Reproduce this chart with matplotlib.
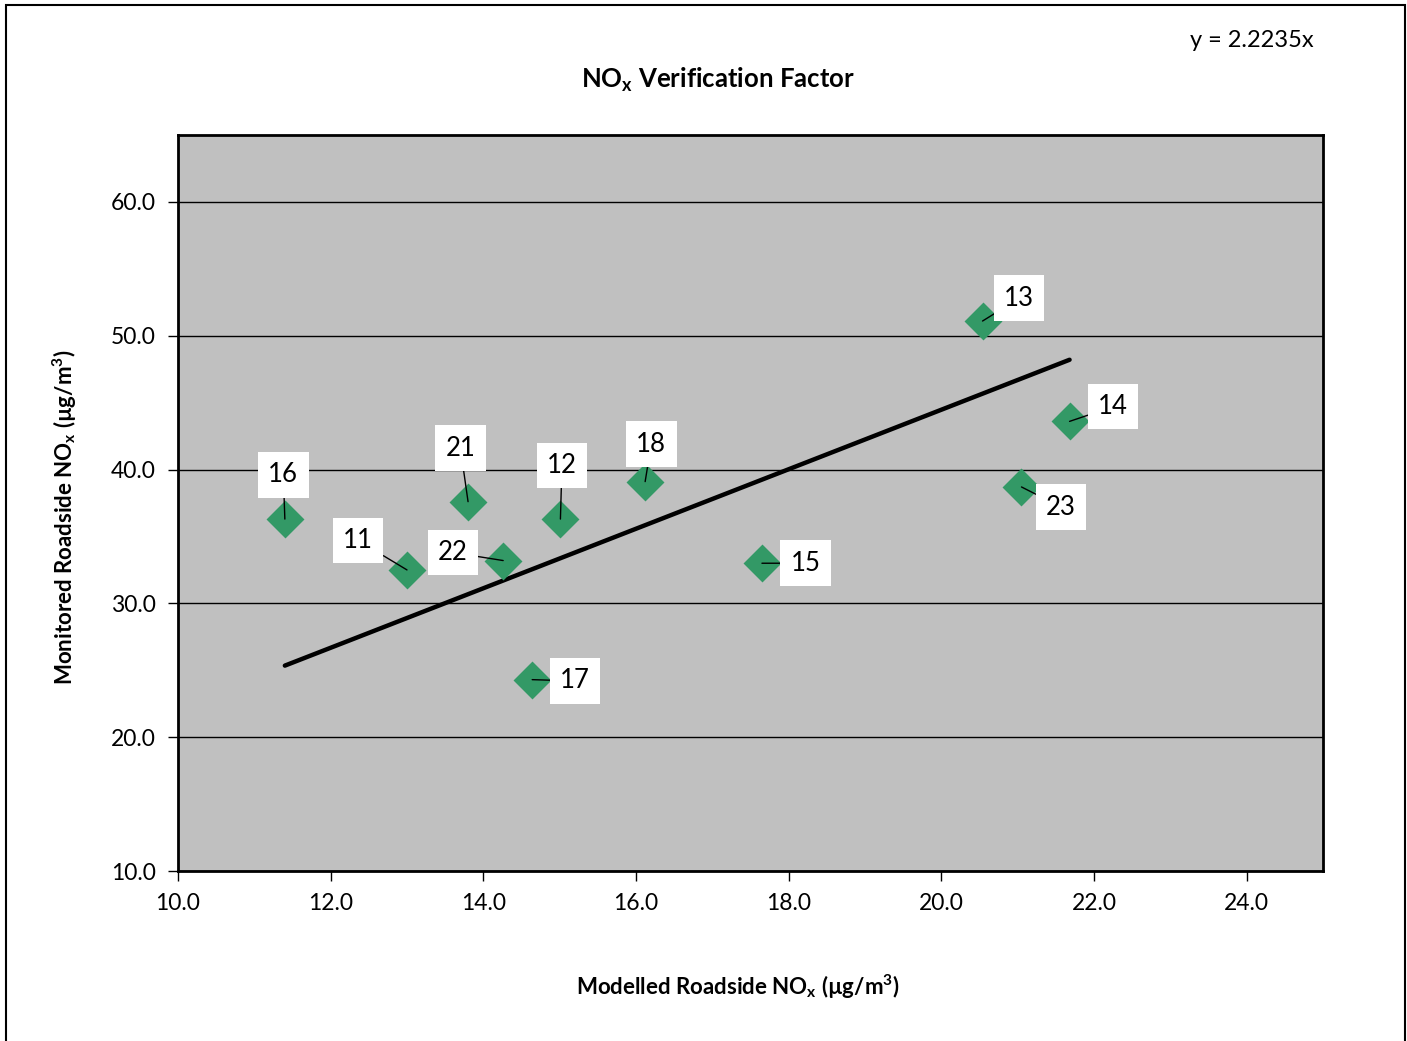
import matplotlib
matplotlib.use('Agg')
import numpy as np
import matplotlib.pyplot as plt
from matplotlib.patches import Rectangle

plt.rcParams['font.family'] = ['Lato', 'DejaVu Sans']

# site ids and values
sites = ['16', '11', '21', '22', '12', '18', '17', '15', '13', '14', '23']
modelled = [11.40, 13.00, 13.80, 14.26, 15.01, 16.12, 14.64, 17.65, 20.54, 21.68, 21.05]
monitored = [36.3, 32.5, 37.6, 33.2, 36.3, 39.1, 24.3, 33.0, 51.1, 43.6, 38.7]
# where the labels sit
label_x = [11.38, 12.36, 13.70, 13.60, 15.03, 16.20, 15.20, 18.22, 21.02, 22.25, 21.57]
label_y = [39.6, 34.7, 41.6, 33.8, 40.3, 41.9, 24.2, 33.0, 52.8, 44.7, 37.2]
slope = 2.2235

fig = plt.figure(figsize=(14.07, 10.41), dpi=100)
ax = fig.add_axes([0.1265, 0.1633, 0.8138, 0.707])
ax.set_facecolor('#c0c0c0')

ax.set_xlim(10, 25)
ax.set_ylim(10, 65)
ax.set_xticks(np.arange(10, 25, 2))
ax.set_yticks(np.arange(10, 61, 10))
ax.xaxis.set_major_formatter(matplotlib.ticker.FormatStrFormatter('%.1f'))
ax.yaxis.set_major_formatter(matplotlib.ticker.FormatStrFormatter('%.1f'))
ax.tick_params(labelsize=16.5, length=7, width=1, pad=9)
ax.grid(axis='y', color='black', lw=1)
ax.set_axisbelow(True)
for s in ax.spines.values():
    s.set_linewidth(2)

xs = np.array([min(modelled), max(modelled)])
ax.plot(xs, slope * xs, color='black', lw=3.2, solid_capstyle='round', zorder=3)

ax.plot(modelled, monitored, 'D', ms=17, color='#339966', mec='#339966',
        mew=2, zorder=4, linestyle='none')

for s, x, y, lx, ly in zip(sites, modelled, monitored, label_x, label_y):
    ax.annotate(s, xy=(x, y), xytext=(lx, ly), fontsize=18.5, ha='center', va='center',
                bbox=dict(boxstyle='square,pad=0.4', fc='white', ec='none'),
                arrowprops=dict(arrowstyle='-', color='black', lw=1, shrinkA=0, shrinkB=0),
                zorder=5)

fig.text(0.5105, 0.923, r'NO$_\mathregular{x}$ Verification Factor', ha='center', va='center',
         fontsize=18.5, fontweight='bold')
fig.text(0.89, 0.961, 'y = 2.2235x', ha='center', va='center', fontsize=17)
fig.text(0.5245, 0.052, r'Modelled Roadside NO$_\mathregular{x}$ (µg/m$^\mathregular{3}$)',
         ha='center', va='center', fontsize=16, fontweight='bold')
fig.text(0.046, 0.503, r'Monitored Roadside NO$_\mathregular{x}$ (µg/m$^\mathregular{3}$)',
         ha='center', va='center', rotation=90, fontsize=16, fontweight='bold')

fig.patches.append(Rectangle((0.0043, -0.01), 0.9943, 1.005, transform=fig.transFigure,
                             fill=False, ec='black', lw=1.5))

fig.savefig('out.png', dpi=100)
